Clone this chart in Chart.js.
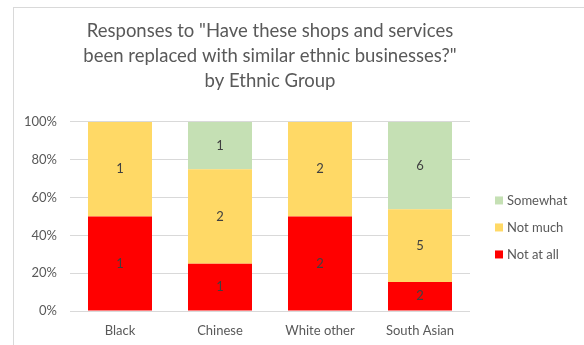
<!DOCTYPE html>
<html>
<head>
<meta charset="utf-8">
<script src="https://cdn.jsdelivr.net/npm/chart.js@4.4.1/dist/chart.umd.min.js"></script>
<style>
  html, body { margin: 0; padding: 0; background: #fff; overflow: hidden; }
  #frame { position: absolute; left: 13px; top: 7px; width: 640px; height: 420px; border: 1px solid #d9d9d9; }
  #wrap { position: absolute; left: 0; top: 0; width: 584px; height: 345px; }
</style>
</head>
<body>
<div id="frame"></div>
<div id="wrap"><canvas id="chart" width="584" height="345"></canvas></div>
<script>
const groups = ["Black", "Chinese", "White other", "South Asian"];
const notAtAll = [1, 1, 2, 2];
const notMuch = [1, 2, 2, 5];
const somewhat = [0, 1, 0, 6];
const yTicks = [0, 20, 40, 60, 80, 100];
const titleLines = [
    'Responses to "Have these shops and services',
    'been replaced with similar ethnic businesses?"',
    'by Ethnic Group'
];

const FONT = "Lato, 'Open Sans', sans-serif";
const GREY = '#595959';

// each bar is shown as a share of its group's total
const totals = groups.map((g, i) => notAtAll[i] + notMuch[i] + somewhat[i]);
const share = arr => arr.map((v, i) => v / totals[i] * 100);

// counts written in the middle of each segment
const countLabels = {
    id: 'countLabels',
    afterDatasetsDraw(chart) {
        const ctx = chart.ctx;
        ctx.save();
        ctx.font = '13px ' + FONT;
        ctx.fillStyle = '#404040';
        ctx.textAlign = 'center';
        ctx.textBaseline = 'middle';
        chart.data.datasets.forEach((ds, di) => {
            chart.getDatasetMeta(di).data.forEach((bar, i) => {
                const n = ds.counts[i];
                if (!n) return;
                ctx.fillText(n, bar.x, (bar.y + bar.base) / 2);
            });
        });
        ctx.restore();
    }
};

// legend on the right, top item = top of the stack
const sideLegend = {
    id: 'sideLegend',
    afterDraw(chart) {
        const { ctx, chartArea } = chart;
        const x = chartArea.right + 25;
        const mid = (chartArea.top + chartArea.bottom) / 2 + 11;
        ctx.save();
        ctx.font = '13px ' + FONT;
        ctx.textBaseline = 'middle';
        ctx.textAlign = 'left';
        chart.data.datasets.slice().reverse().forEach((ds, i) => {
            const y = mid + (i - 1) * 27;
            ctx.fillStyle = ds.backgroundColor;
            ctx.fillRect(x, y - 4, 8, 8);
            ctx.fillStyle = GREY;
            ctx.fillText(ds.label, x + 12, y);
        });
        ctx.restore();
    }
};

new Chart(document.getElementById('chart'), {
    type: 'bar',
    data: {
        labels: groups,
        datasets: [
            { label: 'Not at all', data: share(notAtAll), counts: notAtAll, backgroundColor: '#FF0000' },
            { label: 'Not much', data: share(notMuch), counts: notMuch, backgroundColor: '#FFD966' },
            { label: 'Somewhat', data: share(somewhat), counts: somewhat, backgroundColor: '#C5E0B4' }
        ]
    },
    options: {
        responsive: false,
        animation: false,
        barPercentage: 0.64,
        categoryPercentage: 1,
        layout: { padding: { left: 0, right: 114, top: 0, bottom: 0 } },
        plugins: {
            legend: { display: false },
            tooltip: { enabled: false },
            title: {
                display: true,
                fullSize: false,
                text: titleLines,
                color: GREY,
                font: { family: FONT, size: 18.5, weight: 'normal', lineHeight: 1.35 },
                padding: { top: 19, bottom: 28 }
            }
        },
        scales: {
            x: {
                stacked: true,
                grid: { display: false, drawTicks: false },
                border: { display: false },
                ticks: { color: GREY, font: { family: FONT, size: 13 }, padding: 12 },
                afterFit: s => { s.height = 34; }
            },
            y: {
                stacked: true,
                min: 0,
                max: 100,
                afterBuildTicks: s => { s.ticks = yTicks.map(v => ({ value: v })); },
                ticks: { color: GREY, font: { family: FONT, size: 13 }, padding: 13, callback: v => v + '%' },
                grid: { color: '#d9d9d9', drawTicks: false },
                border: { display: false },
                afterFit: s => { s.width = 70; }
            }
        }
    },
    plugins: [countLabels, sideLegend]
});
</script>
</body>
</html>
